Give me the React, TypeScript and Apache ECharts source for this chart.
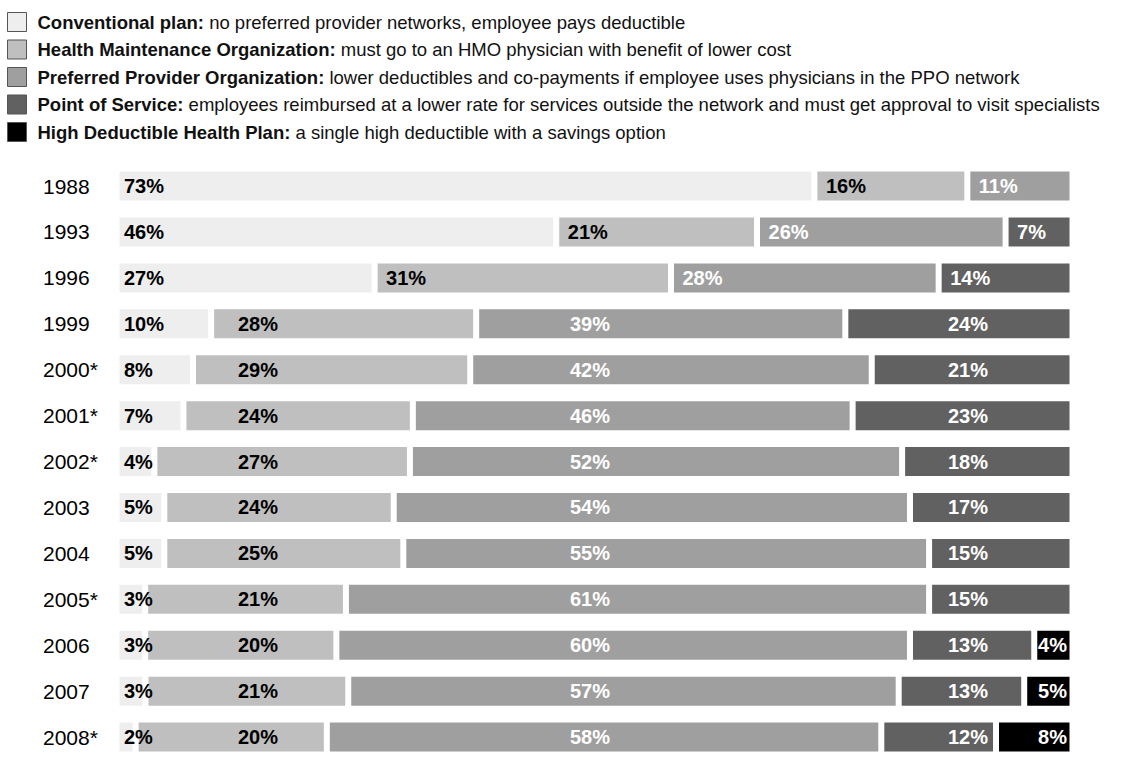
import React, { useEffect, useRef } from 'react';
import * as echarts from 'echarts';

const years = ['1988', '1993', '1996', '1999', '2000*', '2001*', '2002*', '2003', '2004', '2005*', '2006', '2007', '2008*'];
const conventional = [73, 46, 27, 10, 8, 7, 4, 5, 5, 3, 3, 3, 2];
const hmo = [16, 21, 31, 28, 29, 24, 27, 24, 25, 21, 20, 21, 20];
const ppo = [11, 26, 28, 39, 42, 46, 52, 54, 55, 61, 60, 57, 58];
const pos: (number | null)[] = [null, 7, 14, 24, 21, 23, 18, 17, 15, 15, 13, 13, 12];
const hdhp: (number | null)[] = [null, null, null, null, null, null, null, null, null, null, 4, 5, 8];

const planNames = [
  'Conventional plan',
  'Health Maintenance Organization',
  'Preferred Provider Organization',
  'Point of Service',
  'High Deductible Health Plan',
];
const planDescriptions = [
  'no preferred provider networks, employee pays deductible',
  'must go to an HMO physician with benefit of lower cost',
  'lower deductibles and co-payments if employee uses physicians in the PPO network',
  'employees reimbursed at a lower rate for services outside the network and must get approval to visit specialists',
  'a single high deductible with a savings option',
];

const colors = ['#eeeeee', '#bfbfbf', '#9f9f9f', '#616161', '#000000'];
const labelColors = ['#000000', '#000000', '#ffffff', '#ffffff', '#ffffff'];

const FONT = "'Liberation Sans', Arial, sans-serif";
const GRID_LEFT = 116.5;
const GRID_WIDTH = 956;
const GRID_TOP = 163.1;
const GRID_HEIGHT = 607.75;
const labelColumns = [124, 238, 570, 948, 0];

export default function App() {
  const ref = useRef<HTMLDivElement>(null);

  useEffect(() => {
    if (!ref.current) return;
    const chart = echarts.init(ref.current, null, { renderer: 'svg' });
    const seriesValues: (number | null)[][] = [conventional, hmo, ppo, pos, hdhp];
    const rowTotals = years.map((_, r) => seriesValues.reduce((s, arr) => s + (arr[r] ?? 0), 0));

    const series = seriesValues.map((arr, i) => ({
      type: 'bar',
      name: planNames[i],
      stack: 'total',
      barWidth: 35,
      itemStyle: { color: colors[i], borderColor: '#ffffff', borderWidth: 3 },
      label: {
        show: true,
        formatter: (p: any) => `${arr[p.dataIndex]}%`,
        color: labelColors[i],
        fontFamily: FONT,
        fontWeight: 'bold',
        fontSize: 20,
      },
      data: arr.map((v, r) => {
        if (v == null) return '-';
        const share = (v / rowTotals[r]) * 100;
        const before = seriesValues.slice(0, i).reduce((s, a) => s + (a[r] ?? 0), 0) / rowTotals[r];
        const startPx = GRID_LEFT + before * GRID_WIDTH;
        const label =
          i === 4
            ? { position: 'insideRight', distance: 5.5 }
            : {
                position: [Math.max(i === 0 ? 7.5 : 11.5, labelColumns[i] - startPx), '50%'],
                align: 'left',
                verticalAlign: 'middle',
              };
        return { value: share, label };
      }),
    }));

    chart.setOption({
      animation: false,
      textStyle: { fontFamily: FONT },
      legend: {
        orient: 'vertical',
        left: 7,
        top: 12,
        itemWidth: 19,
        itemHeight: 19,
        itemGap: 7.5,
        icon: 'rect',
        selectedMode: false,
        padding: 0,
        data: planNames,
        itemStyle: { borderColor: '#555555', borderWidth: 1 },
        formatter: (name: string) => `{b|${name}:} ${planDescriptions[planNames.indexOf(name)]}`,
        textStyle: {
          fontFamily: FONT,
          fontSize: 18.5,
          lineHeight: 19,
          color: '#111111',
          rich: {
            b: { fontFamily: FONT, fontSize: 18.5, lineHeight: 19, fontWeight: 'bold', color: '#111111', padding: [0, 0, 0, 6] },
          },
        },
      },
      grid: { left: GRID_LEFT, top: GRID_TOP, width: GRID_WIDTH, height: GRID_HEIGHT },
      xAxis: { type: 'value', min: 0, max: 100, show: false },
      yAxis: {
        type: 'category',
        data: years,
        inverse: true,
        axisLine: { show: false },
        axisTick: { show: false },
        axisLabel: { align: 'left', margin: GRID_LEFT - 43, fontSize: 21, fontFamily: FONT, color: '#000000' },
      },
      series,
    });
    return () => chart.dispose();
  }, []);

  return <div ref={ref} style={{ position: 'absolute', left: 0, top: 0, width: 1123, height: 760 }} />;
}
